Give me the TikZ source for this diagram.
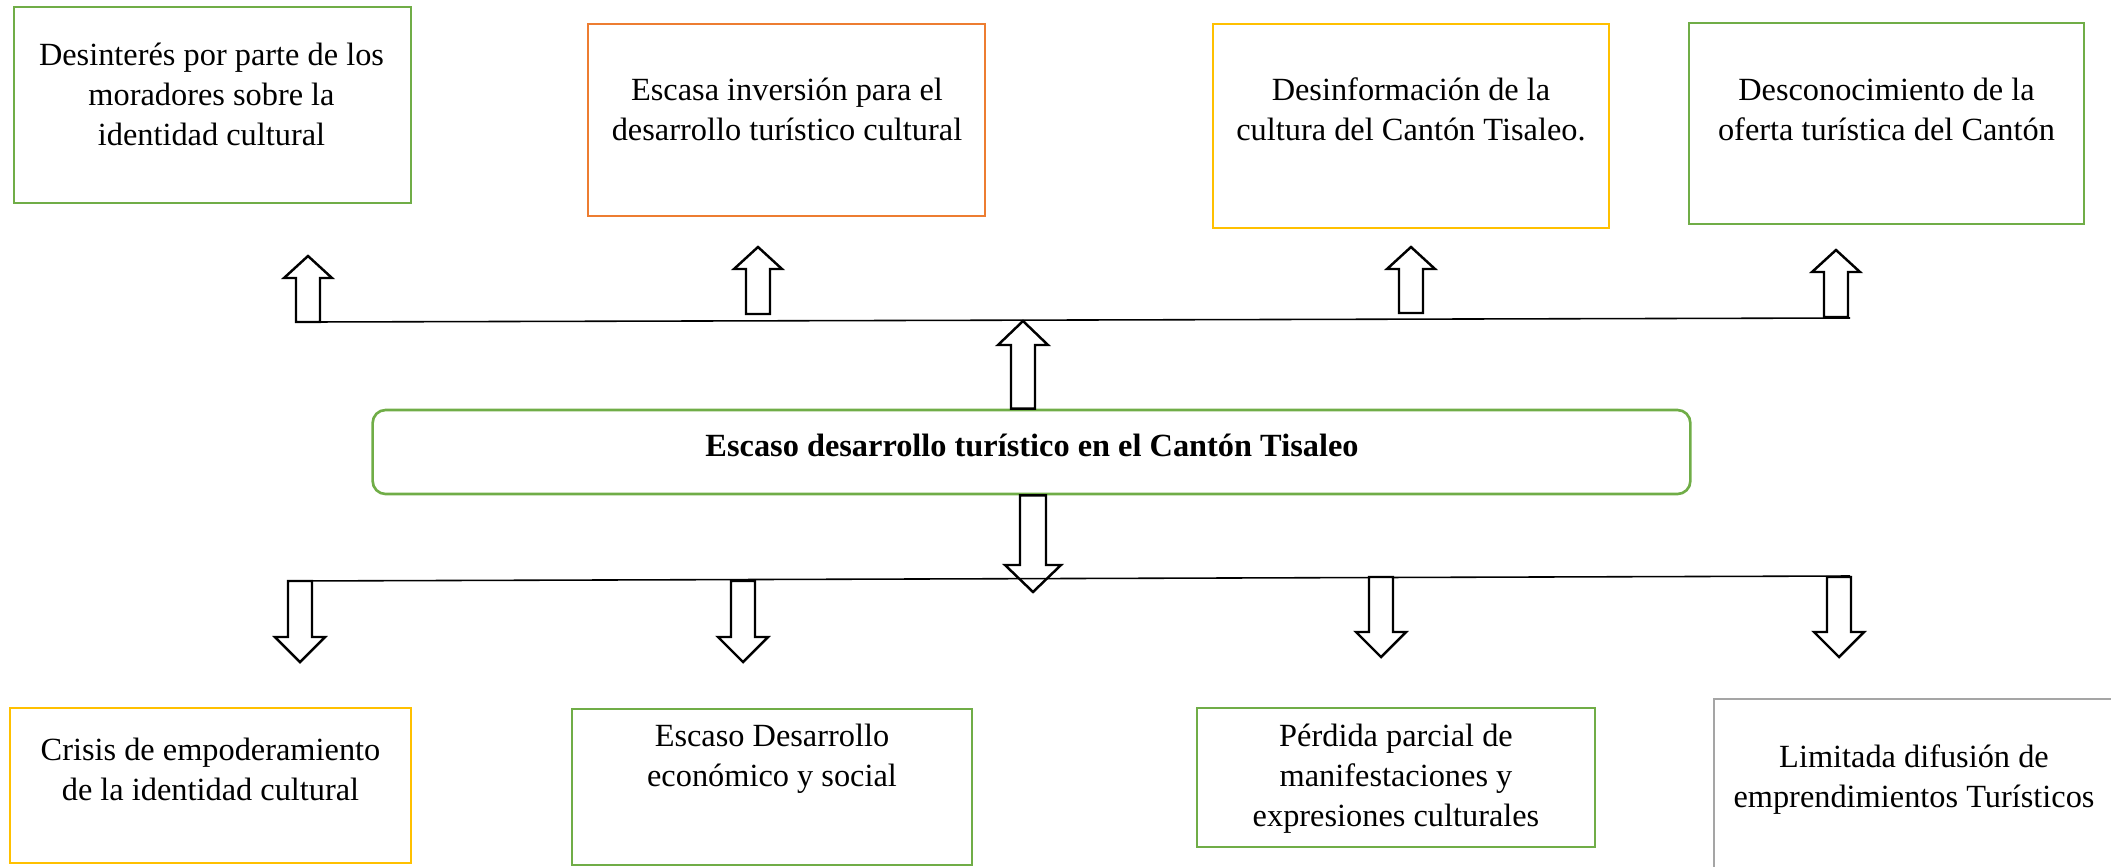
\documentclass[tikz,border=0pt]{standalone}
\usepackage{fontspec}
\setmainfont{Liberation Serif}
\usetikzlibrary{calc}

\definecolor{vgreen}{HTML}{70AD47}
\definecolor{vorange}{HTML}{ED7D31}
\definecolor{vgold}{HTML}{FFC000}
\definecolor{vgray}{HTML}{A5A5A5}

% hollow block arrow: tail, tip, half body, half head, head length
\newcommand{\blockarrow}[5]{%
	\draw[blockarr] ($(#1)+(-#3,0)$) -- ($(#2)+(-#3,#5)$) -- ($(#2)+(-#4,#5)$) -- (#2)
		-- ($(#2)+(#4,#5)$) -- ($(#2)+(#3,#5)$) -- ($(#1)+(#3,0)$) -- cycle;}

\begin{document}
\begin{tikzpicture}[x=0.01cm, y=-0.01cm,
	box/.style={draw, line width=0.75pt, inner sep=0pt},
	txt/.style={align=center, inner sep=0pt, font=\fontsize{9.2}{11.4}\selectfont},
	blockarr/.style={draw=black, line width=0.7pt, fill=white, line join=miter},
	joinline/.style={line width=0.45pt}]
	\useasboundingbox (0,0) rectangle (2111,866);

	% effects
	\node[box, draw=vgreen, minimum width=3.97cm, minimum height=1.96cm] (b1) at (212.5,105) {};
	\node[box, draw=vorange, minimum width=3.97cm, minimum height=1.92cm] (b2) at (786.5,120) {};
	\node[box, draw=vgold, minimum width=3.96cm, minimum height=2.04cm] (b3) at (1411,126) {};
	\node[box, draw=vgreen, minimum width=3.95cm, minimum height=2.01cm] (b4) at (1886.5,123.5) {};

	\node[txt] (t1) at (211.5,94) {Desinterés por parte de los\\moradores sobre la\\identidad cultural};
	\node[txt] (t2) at (787,109) {Escasa inversión para el\\desarrollo turístico cultural};
	\node[txt] (t3) at (1411,109.5) {Desinformación de la\\cultura del Cantón Tisaleo.};
	\node[txt] (t4) at (1886.5,109) {Desconocimiento de la\\oferta turística del Cantón};

	\coordinate (topL) at (308,322);
	\coordinate (topR) at (1850,318);
	\draw[joinline] (topL) -- (topR);
	\foreach \x/\yb/\yt in {308/322/256, 758/314/247, 1411/313/247, 1836/317/250}
		\blockarrow{\x,\yb}{\x,\yt}{12}{24}{22};

	% problem
	\node[box, draw=vgreen, rounded corners=0.13cm, minimum width=13.17cm, minimum height=0.84cm] (core) at (1031.5,452) {};
	\node[txt, font=\fontsize{9.2}{11.4}\selectfont\bfseries] (coret) at (1032,445) {Escaso desarrollo turístico en el Cantón Tisaleo};

	\coordinate (upC) at (1023,321);
	\blockarrow{upC |- core.north}{upC}{12}{25}{24};
	\coordinate (dnC) at (1033,592);
	\blockarrow{dnC |- core.south}{dnC}{13}{28}{-27};

	% causes
	\coordinate (botL) at (289,581);
	\coordinate (botR) at (1850,576);
	\draw[joinline] (botL) -- (botR);
	\foreach \x/\yb/\yt in {300/581/662, 743/581/662, 1381/577/657, 1839/577/657}
		\blockarrow{\x,\yb}{\x,\yt}{12}{25}{-25};

	\node[box, draw=vgold, minimum width=4.01cm, minimum height=1.55cm] (c1) at (210.5,785.5) {};
	\node[box, draw=vgreen, minimum width=4.00cm, minimum height=1.56cm] (c2) at (772,787) {};
	\node[box, draw=vgreen, minimum width=3.98cm, minimum height=1.39cm] (c3) at (1396,777.5) {};
	\node[box, draw=vgray, minimum width=4.06cm, minimum height=2.01cm] (c4) at (1917,799.5) {};

	\node[txt] (s1) at (210.5,769) {Crisis de empoderamiento\\de la identidad cultural};
	\node[txt] (s2) at (772,759) {Escaso Desarrollo\\económico y social};
	\node[txt] (s3) at (1396,778.5) {Pérdida parcial de\\manifestaciones y\\expresiones culturales};
	\node[txt] (s4) at (1914,779.5) {Limitada difusión de\\emprendimientos Turísticos};
\end{tikzpicture}
\end{document}
